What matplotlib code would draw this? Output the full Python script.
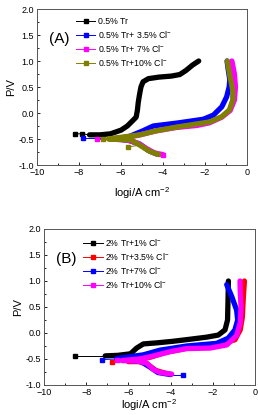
import matplotlib
matplotlib.use("Agg")
import matplotlib.pyplot as plt
from matplotlib.ticker import MultipleLocator

plt.rcParams['font.family'] = ['Liberation Sans', 'DejaVu Sans']
plt.rcParams['mathtext.fontset'] = 'custom'
plt.rcParams['mathtext.rm'] = 'Liberation Sans'
plt.rcParams['mathtext.it'] = 'Liberation Sans'

# ---- panel A : 0.5% Tr ----
a_labels = ['0.5% Tr', '0.5% Tr+ 3.5% Cl$^{-}$', '0.5% Tr+ 7% Cl$^{-}$', '0.5% Tr+10% Cl$^{-}$']
a_colors = ['#000000', '#0000ff', '#ff00ff', '#808000']

a_black_x = [-7.5, -7.0, -6.5, -6.0, -5.7, -5.45, -5.28, -5.22, -5.18, -5.12, -5.05, -4.95, -4.7, -4.2, -3.6, -3.2, -2.9, -2.6, -2.3]
a_black_y = [-0.42, -0.42, -0.40, -0.33, -0.25, -0.15, -0.08, 0.05, 0.2, 0.35, 0.5, 0.6, 0.66, 0.69, 0.71, 0.74, 0.82, 0.92, 1.0]
a_black_tip_x = [-7.5, -7.87, -8.19]
a_black_tip_y = [-0.42, -0.40, -0.40]

a_blue_x = [-4.3, -4.7, -5.1, -5.6, -6.3, -6.0, -5.6, -5.0, -4.46, -3.27, -2.08, -1.6, -1.2, -0.97, -0.85, -0.82, -0.9, -0.95]
a_blue_y = [-0.79, -0.72, -0.6, -0.53, -0.49, -0.48, -0.45, -0.35, -0.25, -0.19, -0.12, -0.04, 0.12, 0.31, 0.5, 0.64, 0.85, 1.0]
a_blue_tip_x = [-6.3, -7.79]
a_blue_tip_y = [-0.49, -0.49]

a_mag_x = [-4.0, -4.4, -4.8, -5.2, -5.7, -6.5, -6.0, -5.2, -4.4, -3.4, -2.4, -1.8, -1.2, -0.8, -0.6, -0.55, -0.6, -0.72]
a_mag_y = [-0.8, -0.77, -0.68, -0.58, -0.52, -0.5, -0.48, -0.43, -0.35, -0.28, -0.24, -0.19, -0.08, 0.05, 0.25, 0.5, 0.75, 1.0]
a_mag_tip_x = [-6.5, -7.16]
a_mag_tip_y = [-0.5, -0.5]

a_olive_x = [-4.2, -4.62, -5.1, -5.5, -6.6, -6.05, -5.1, -4.3, -3.19, -2.7, -1.76, -1.2, -0.84, -0.68, -0.68, -0.81, -0.94]
a_olive_y = [-0.8, -0.74, -0.62, -0.52, -0.5, -0.47, -0.42, -0.34, -0.26, -0.23, -0.17, -0.07, 0.06, 0.25, 0.44, 0.70, 1.0]
a_olive_tip_x = [-6.6, -6.85]
a_olive_tip_y = [-0.5, -0.5]
a_olive_tip2_x = [-5.1, -5.65]
a_olive_tip2_y = [-0.62, -0.65]

# ---- panel B : 2% Tr ----
b_labels = ['2% Tr+1% Cl$^{-}$', '2% Tr+3.5% Cl$^{-}$', '2% Tr+7% Cl$^{-}$', '2% Tr+10% Cl$^{-}$']
b_colors = ['#000000', '#ff0000', '#0000ff', '#ff00ff']

b_black_x = [-7.1, -6.5, -5.9, -5.61, -5.29, -4.66, -3.9, -3.08, -2.29, -1.74, -1.42, -1.3, -1.28, -1.26]
b_black_y = [-0.44, -0.43, -0.40, -0.29, -0.21, -0.19, -0.16, -0.12, -0.08, -0.04, 0.06, 0.25, 0.6, 1.0]
b_black_tip_x = [-7.1, -8.53]
b_black_tip_y = [-0.44, -0.44]

b_red_x = [-4.2, -4.7, -5.1, -5.5, -6.0, -5.0, -4.2, -3.2, -1.66, -0.95, -0.7, -0.6, -0.55, -0.5]
b_red_y = [-0.78, -0.72, -0.6, -0.55, -0.55, -0.47, -0.37, -0.29, -0.22, -0.13, 0.06, 0.3, 0.7, 1.0]
b_red_tip_x = [-6.0, -6.79]
b_red_tip_y = [-0.55, -0.56]

b_blue_x = [-4.0, -4.6, -5.0, -5.4, -6.5, -6.55, -5.29, -4.5, -3.24, -1.82, -1.27, -0.95, -0.82, -0.87, -1.1, -1.34]
b_blue_y = [-0.8, -0.76, -0.65, -0.55, -0.5, -0.49, -0.42, -0.33, -0.25, -0.2, -0.10, 0.06, 0.25, 0.44, 0.7, 0.93]
b_blue_tip_x = [-6.5, -7.25]
b_blue_tip_y = [-0.5, -0.51]
b_blue_tip2_x = [-4.0, -3.43]
b_blue_tip2_y = [-0.8, -0.8]

b_mag_x = [-3.95, -4.5, -4.82, -5.13, -5.6, -6.3, -5.5, -5.0, -4.03, -3.24, -2.13, -1.34, -0.87, -0.7, -0.66, -0.7, -0.71]
b_mag_y = [-0.79, -0.76, -0.70, -0.58, -0.54, -0.53, -0.50, -0.46, -0.36, -0.30, -0.29, -0.23, -0.05, 0.2, 0.5, 0.8, 1.0]
b_mag_tip_x = [-6.3, -6.55]
b_mag_tip_y = [-0.53, -0.52]

fig = plt.figure(figsize=(2.58, 4.15), dpi=100)
ax1 = fig.add_axes([0.1434, 0.6024, 0.814, 0.3759])
ax2 = fig.add_axes([0.1705, 0.0723, 0.8178, 0.3759])


def draw(ax, x, y, tips, color, label):
    for tx, ty in tips:
        ax.plot(tx, ty, color=color, lw=0.7, marker='s', ms=2.5, markevery=list(range(1, len(tx))))
    ax.plot(x, y, color=color, lw=3.8, solid_joinstyle='round', solid_capstyle='round')
    # legend proxy
    ax.plot([], [], color=color, lw=0.7, marker='s', ms=2.5, label=label)


draw(ax1, a_black_x, a_black_y, [(a_black_tip_x, a_black_tip_y)], a_colors[0], a_labels[0])
draw(ax1, a_blue_x, a_blue_y, [(a_blue_tip_x, a_blue_tip_y)], a_colors[1], a_labels[1])
draw(ax1, a_mag_x, a_mag_y, [(a_mag_tip_x, a_mag_tip_y)], a_colors[2], a_labels[2])
draw(ax1, a_olive_x, a_olive_y, [(a_olive_tip_x, a_olive_tip_y), (a_olive_tip2_x, a_olive_tip2_y)], a_colors[3], a_labels[3])
ax1.plot([a_mag_x[0]], [a_mag_y[0]], color=a_colors[2], marker='s', ms=3)

draw(ax2, b_black_x, b_black_y, [(b_black_tip_x, b_black_tip_y)], b_colors[0], b_labels[0])
draw(ax2, b_red_x, b_red_y, [(b_red_tip_x, b_red_tip_y)], b_colors[1], b_labels[1])
draw(ax2, b_blue_x, b_blue_y, [(b_blue_tip_x, b_blue_tip_y), (b_blue_tip2_x, b_blue_tip2_y)], b_colors[2], b_labels[2])
draw(ax2, b_mag_x, b_mag_y, [(b_mag_tip_x, b_mag_tip_y)], b_colors[3], b_labels[3])

for ax, tag, lp in [(ax1, '(A)', 6), (ax2, '(B)', 0.5)]:
    ax.set_xlim(-10, 0)
    ax.set_ylim(-1.0, 2.0)
    ax.xaxis.set_major_locator(MultipleLocator(2))
    ax.xaxis.set_minor_locator(MultipleLocator(1))
    ax.yaxis.set_major_locator(MultipleLocator(0.5))
    ax.yaxis.set_minor_locator(MultipleLocator(0.25))
    ax.yaxis.set_major_formatter(matplotlib.ticker.FormatStrFormatter('%.1f'))
    ax.tick_params(which='both', direction='in', top=False, right=False, labelsize=6.5, pad=2)
    ax.tick_params(which='major', length=2.5, width=0.6)
    ax.tick_params(which='minor', length=1.5, width=0.6)
    for s in ax.spines.values():
        s.set_color('#555555')
        s.set_linewidth(0.7)
    ax.set_xlabel('logi/A cm$^{-2}$', fontsize=8, labelpad=lp)
    ax.set_ylabel('P/V', fontsize=8, labelpad=2)
    ax.text(0.055, 0.78, tag, transform=ax.transAxes, fontsize=11)
    ax.legend(loc='upper left', bbox_to_anchor=(0.17, 0.97), frameon=False, fontsize=6.3,
              handlelength=2.2, handletextpad=0.3, labelspacing=0.35, borderaxespad=0)

fig.savefig('out.png', dpi=100)
